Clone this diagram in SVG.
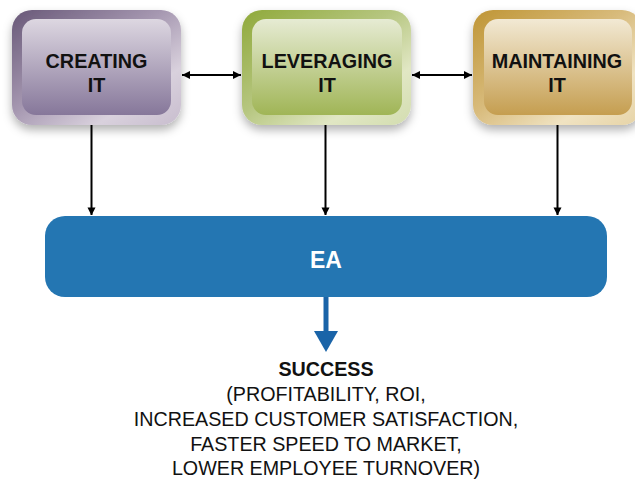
<svg xmlns="http://www.w3.org/2000/svg" width="635" height="482" viewBox="0 0 635 482">
<defs>
<style>
.lbl{font-family:"Liberation Sans",Arial,sans-serif;font-weight:bold;font-size:19.8px;fill:#111;text-anchor:middle}
.ea{font-family:"Liberation Sans",Arial,sans-serif;font-weight:bold;font-size:23px;fill:#fff;text-anchor:middle}
.s{font-family:"Liberation Sans",Arial,sans-serif;font-size:19.7px;fill:#111;text-anchor:middle}
.sb{font-weight:bold}
.con{stroke:#000;stroke-width:2;fill:none}
</style>
<filter id="sh" x="-20%" y="-20%" width="140%" height="150%">
<feDropShadow dx="0" dy="5" stdDeviation="5" flood-color="#000" flood-opacity="0.3"/>
</filter>
<marker id="ah" viewBox="0 0 10 10" refX="10" refY="5" markerWidth="11" markerHeight="8" orient="auto-start-reverse" markerUnits="userSpaceOnUse">
<path d="M0,0 L10,5 L0,10 z" fill="#000"/>
</marker>
<marker id="ahd" viewBox="0 0 10 10" refX="9.5" refY="5" markerWidth="8" markerHeight="13" orient="auto" markerUnits="userSpaceOnUse">
<path d="M0,0 L10,5 L0,10 z" fill="#000"/>
</marker>
<linearGradient id="po" x1="0" y1="0" x2="1" y2="1">
<stop offset="0" stop-color="#685878"/><stop offset="0.45" stop-color="#a698b1"/><stop offset="0.75" stop-color="#d9d1dd"/><stop offset="1" stop-color="#c8bdce"/>
</linearGradient>
<linearGradient id="pi" x1="0" y1="0" x2="0" y2="1">
<stop offset="0" stop-color="#ddd7e1"/><stop offset="1" stop-color="#86779a"/>
</linearGradient>
<linearGradient id="go" x1="0" y1="0" x2="1" y2="1">
<stop offset="0" stop-color="#8fa93a"/><stop offset="0.45" stop-color="#b6c680"/><stop offset="0.75" stop-color="#e1e7c4"/><stop offset="1" stop-color="#d3ddb0"/>
</linearGradient>
<linearGradient id="gi" x1="0" y1="0" x2="0" y2="1">
<stop offset="0" stop-color="#e6ebd3"/><stop offset="1" stop-color="#a0b556"/>
</linearGradient>
<linearGradient id="yo" x1="0" y1="0" x2="1" y2="1">
<stop offset="0" stop-color="#bf9535"/><stop offset="0.45" stop-color="#d8bb7c"/><stop offset="0.75" stop-color="#f0e3c2"/><stop offset="1" stop-color="#e6d3a6"/>
</linearGradient>
<linearGradient id="yi" x1="0" y1="0" x2="0" y2="1">
<stop offset="0" stop-color="#f2e9d4"/><stop offset="1" stop-color="#c59e50"/>
</linearGradient>
</defs>
<rect width="635" height="482" fill="#fff"/>

<g id="creating">
<rect x="12" y="10" width="169" height="115" rx="20" fill="url(#po)" filter="url(#sh)"/>
<rect x="22" y="19" width="149" height="96" rx="14" fill="url(#pi)"/>
<text class="lbl" x="96.5" y="68">CREATING</text>
<text class="lbl" x="96.5" y="92">IT</text>
</g>

<g id="leveraging">
<rect x="242" y="10" width="169" height="115" rx="20" fill="url(#go)" filter="url(#sh)"/>
<rect x="252" y="19" width="150" height="96" rx="14" fill="url(#gi)"/>
<text class="lbl" x="327" y="68">LEVERAGING</text>
<text class="lbl" x="327" y="92">IT</text>
</g>

<g id="maintaining">
<rect x="473" y="10" width="169" height="115" rx="20" fill="url(#yo)" filter="url(#sh)"/>
<rect x="484" y="19" width="148" height="96" rx="14" fill="url(#yi)"/>
<text class="lbl" x="557" y="68">MAINTAINING</text>
<text class="lbl" x="557" y="92">IT</text>
</g>

<g id="ea">
<rect x="45" y="216" width="562" height="81" rx="20" fill="#2476b2"/>
<text class="ea" x="326" y="268">EA</text>
</g>

<g id="success">
<text class="s sb" x="326" y="376">SUCCESS</text>
<text class="s" x="326" y="401">(PROFITABILITY, ROI,</text>
<text class="s" x="326" y="426">INCREASED CUSTOMER SATISFACTION,</text>
<text class="s" x="326" y="451">FASTER SPEED TO MARKET,</text>
<text class="s" x="326" y="475">LOWER EMPLOYEE TURNOVER)</text>
</g>

<g id="connectors">
<line class="con" x1="182" y1="75" x2="241" y2="75" marker-start="url(#ah)" marker-end="url(#ah)" stroke-width="1.8"/>
<line class="con" x1="412" y1="75" x2="472" y2="75" marker-start="url(#ah)" marker-end="url(#ah)" stroke-width="1.8"/>
<line class="con" x1="91.5" y1="125" x2="91.5" y2="215" marker-end="url(#ahd)"/>
<line class="con" x1="325.5" y1="125" x2="325.5" y2="215" marker-end="url(#ahd)"/>
<line class="con" x1="557.5" y1="125" x2="557.5" y2="215" marker-end="url(#ahd)"/>
<line x1="326" y1="297" x2="326" y2="335" stroke="#1a64a8" stroke-width="5"/>
<path d="M314,331 L338,331 L326,352 z" fill="#1a64a8"/>
</g>
</svg>
